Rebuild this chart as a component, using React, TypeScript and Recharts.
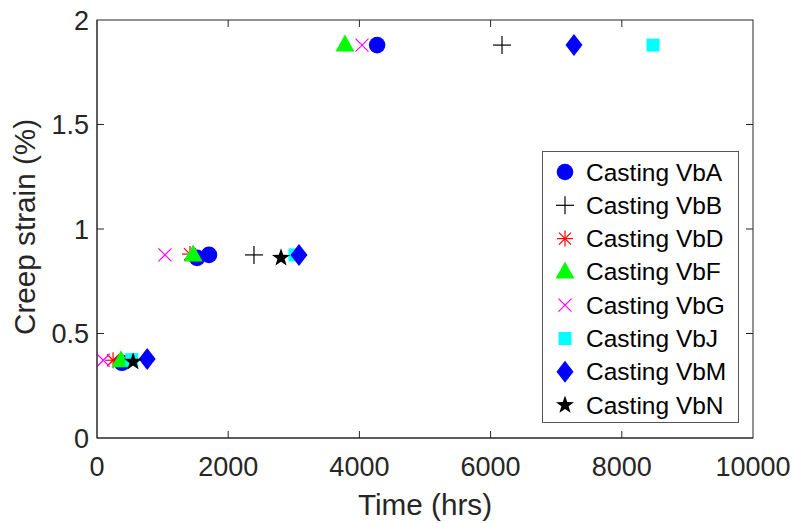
import React from 'react';
import { ScatterChart, Scatter, XAxis, YAxis, Legend, Label } from 'recharts';

type Pt = { x: number; y: number };

// Data (Time hrs, Creep strain %)
const castingVbA: Pt[] = [
  { x: 4270, y: 1.88 },
  { x: 1525, y: 0.862 },
  { x: 1707, y: 0.876 },
  { x: 380, y: 0.36 },
];
const castingVbB: Pt[] = [
  { x: 6174, y: 1.88 },
  { x: 2393, y: 0.876 },
];
const castingVbD: Pt[] = [
  { x: 1418, y: 0.88 },
  { x: 245, y: 0.372 },
];
const castingVbF: Pt[] = [
  { x: 3780, y: 1.88 },
  { x: 1465, y: 0.876 },
  { x: 365, y: 0.37 },
];
const castingVbG: Pt[] = [
  { x: 4040, y: 1.88 },
  { x: 1036, y: 0.876 },
  { x: 95, y: 0.372 },
];
const castingVbJ: Pt[] = [
  { x: 8476, y: 1.88 },
  { x: 3018, y: 0.876 },
  { x: 530, y: 0.375 },
];
const castingVbM: Pt[] = [
  { x: 7271, y: 1.88 },
  { x: 3079, y: 0.876 },
  { x: 765, y: 0.378 },
];
const castingVbN: Pt[] = [
  { x: 2805, y: 0.862 },
  { x: 550, y: 0.365 },
];

const xTicks = [0, 2000, 4000, 6000, 8000, 10000];
const yTicks = [0, 0.5, 1, 1.5, 2];
const xDomain: [number, number] = [0, 10000];
const yDomain: [number, number] = [0, 2];

type Kind = 'circle' | 'plus' | 'asterisk' | 'triangle' | 'xmark' | 'square' | 'diamond' | 'star';

const series: { name: string; data: Pt[]; kind: Kind; color: string }[] = [
  { name: 'Casting VbA', data: castingVbA, kind: 'circle', color: '#0000FF' },
  { name: 'Casting VbB', data: castingVbB, kind: 'plus', color: '#000000' },
  { name: 'Casting VbD', data: castingVbD, kind: 'asterisk', color: '#FF0000' },
  { name: 'Casting VbF', data: castingVbF, kind: 'triangle', color: '#00FF00' },
  { name: 'Casting VbG', data: castingVbG, kind: 'xmark', color: '#FF00FF' },
  { name: 'Casting VbJ', data: castingVbJ, kind: 'square', color: '#00FFFF' },
  { name: 'Casting VbM', data: castingVbM, kind: 'diamond', color: '#0000FF' },
  { name: 'Casting VbN', data: castingVbN, kind: 'star', color: '#000000' },
];

function starPoints(cx: number, cy: number, R: number, r: number) {
  const pts: string[] = [];
  for (let i = 0; i < 10; i++) {
    const rad = i % 2 === 0 ? R : r;
    const a = -Math.PI / 2 + (i * Math.PI) / 5;
    pts.push(`${cx + rad * Math.cos(a)},${cy + rad * Math.sin(a)}`);
  }
  return pts.join(' ');
}

function Marker({ kind, color, cx, cy }: { kind: Kind; color: string; cx: number; cy: number }) {
  if (cx == null || cy == null || isNaN(cx) || isNaN(cy)) return null;
  switch (kind) {
    case 'circle':
      return <circle cx={cx} cy={cy} r={8.3} fill={color} />;
    case 'plus':
      return (
        <g stroke={color} strokeWidth={1.2}>
          <line x1={cx - 9} y1={cy} x2={cx + 9} y2={cy} />
          <line x1={cx} y1={cy - 9} x2={cx} y2={cy + 9} />
        </g>
      );
    case 'asterisk':
      return (
        <g stroke={color} strokeWidth={1.2}>
          <line x1={cx - 8} y1={cy} x2={cx + 8} y2={cy} />
          <line x1={cx} y1={cy - 8} x2={cx} y2={cy + 8} />
          <line x1={cx - 6} y1={cy - 6} x2={cx + 6} y2={cy + 6} />
          <line x1={cx - 6} y1={cy + 6} x2={cx + 6} y2={cy - 6} />
        </g>
      );
    case 'triangle':
      return <polygon points={`${cx},${cy - 10.5} ${cx - 9.5},${cy + 6.5} ${cx + 9.5},${cy + 6.5}`} fill={color} />;
    case 'xmark':
      return (
        <g stroke={color} strokeWidth={1.2}>
          <line x1={cx - 6.5} y1={cy - 6.5} x2={cx + 6.5} y2={cy + 6.5} />
          <line x1={cx - 6.5} y1={cy + 6.5} x2={cx + 6.5} y2={cy - 6.5} />
        </g>
      );
    case 'square':
      return <rect x={cx - 6.5} y={cy - 6.5} width={13} height={13} fill={color} />;
    case 'diamond':
      return <polygon points={`${cx},${cy - 11} ${cx + 8.5},${cy} ${cx},${cy + 11} ${cx - 8.5},${cy}`} fill={color} />;
    case 'star':
      return <polygon points={starPoints(cx, cy, 9.5, 3.8)} fill={color} />;
  }
  return null;
}

const AXIS = '#262626';
const FONT = '"Liberation Sans", Arial, Helvetica, sans-serif';

// layout
const CHART_W = 793;
const CHART_H = 523;
const MARGIN = { top: 20, right: 40, left: 0, bottom: 0 };
const Y_AXIS_W = 97;
const X_AXIS_H = 85;
const PLOT_X = MARGIN.left + Y_AXIS_W;
const PLOT_Y = MARGIN.top;
const PLOT_W = CHART_W - MARGIN.left - MARGIN.right - Y_AXIS_W;
const PLOT_H = CHART_H - MARGIN.top - MARGIN.bottom - X_AXIS_H;
const TICK_PX = 7;

const innerX = xTicks.filter((t) => t > xDomain[0] && t < xDomain[1]);
const innerY = yTicks.filter((t) => t > yDomain[0] && t < yDomain[1]);
const px = (v: number) => PLOT_X + ((v - xDomain[0]) / (xDomain[1] - xDomain[0])) * PLOT_W;
const py = (v: number) => PLOT_Y + PLOT_H - ((v - yDomain[0]) / (yDomain[1] - yDomain[0])) * PLOT_H;

// MATLAB-style axes box with inward ticks on all four sides
function AxesBox() {
  return (
    <svg
      width={CHART_W}
      height={CHART_H}
      style={{ position: 'absolute', left: 0, top: 0, pointerEvents: 'none' }}
    >
      <rect x={PLOT_X} y={PLOT_Y} width={PLOT_W} height={PLOT_H} fill="none" stroke={AXIS} strokeWidth={1} />
      <g stroke={AXIS} strokeWidth={1}>
        {innerX.map((t) => (
          <g key={`x${t}`}>
            <line x1={px(t)} y1={PLOT_Y + PLOT_H} x2={px(t)} y2={PLOT_Y + PLOT_H - TICK_PX} />
            <line x1={px(t)} y1={PLOT_Y} x2={px(t)} y2={PLOT_Y + TICK_PX} />
          </g>
        ))}
        {innerY.map((t) => (
          <g key={`y${t}`}>
            <line x1={PLOT_X} y1={py(t)} x2={PLOT_X + TICK_PX} y2={py(t)} />
            <line x1={PLOT_X + PLOT_W} y1={py(t)} x2={PLOT_X + PLOT_W - TICK_PX} y2={py(t)} />
          </g>
        ))}
      </g>
    </svg>
  );
}

function LegendBox() {
  const rowH = 33.3;
  const w = 197;
  const h = 272;
  return (
    <svg width={w} height={h} style={{ display: 'block' }}>
      <rect x={0.5} y={0.5} width={w - 1} height={h - 1} fill="#fff" stroke="#555" strokeWidth={1} />
      {series.map((s, i) => {
        const cy = 21 + i * rowH;
        return (
          <g key={s.name}>
            <Marker kind={s.kind} color={s.color} cx={23} cy={cy} />
            <text x={44} y={cy + 8.5} fontSize={24.5} fontFamily={FONT} fill="#000">
              {s.name}
            </text>
          </g>
        );
      })}
    </svg>
  );
}

function YLabel(props: any) {
  const vb = props.viewBox || {};
  const cx = 35;
  const cy = (vb.y ?? 20) + (vb.height ?? 418) / 2 - 2;
  return (
    <text
      x={cx}
      y={cy}
      transform={`rotate(-90 ${cx} ${cy})`}
      textAnchor="middle"
      fontSize={29.7}
      fontFamily={FONT}
      fill={AXIS}
    >
      Creep strain (%)
    </text>
  );
}

function XLabel(props: any) {
  const vb = props.viewBox || {};
  const cx = (vb.x ?? 97) + (vb.width ?? 656) / 2;
  const y = 515;
  return (
    <text x={cx} y={y} textAnchor="middle" fontSize={29.7} fontFamily={FONT} fill={AXIS}>
      Time (hrs)
    </text>
  );
}

export default function App() {
  return (
    <div style={{ position: 'absolute', left: 0, top: 0, width: CHART_W, height: CHART_H, fontFamily: FONT, overflow: 'hidden' }}>
      <ScatterChart width={CHART_W} height={CHART_H} margin={MARGIN} style={{ fontFamily: FONT }}>
        <XAxis
          xAxisId="bottom"
          type="number"
          dataKey="x"
          domain={xDomain}
          ticks={xTicks}
          height={X_AXIS_H}
          stroke={AXIS}
          tickLine={false}
          tickSize={0}
          tickMargin={19}
          tick={{ fill: AXIS, fontSize: 27, fontFamily: FONT }}
          interval={0}
        >
          <Label content={<XLabel />} />
        </XAxis>
        <YAxis
          yAxisId="left"
          type="number"
          dataKey="y"
          domain={yDomain}
          ticks={yTicks}
          width={Y_AXIS_W}
          stroke={AXIS}
          tickLine={false}
          tickSize={0}
          tickMargin={8}
          tick={{ fill: AXIS, fontSize: 27, fontFamily: FONT }}
          interval={0}
        >
          <Label content={<YLabel />} />
        </YAxis>
        {series.map((s) => (
          <Scatter
            key={s.name}
            name={s.name}
            data={s.data}
            xAxisId="bottom"
            yAxisId="left"
            fill={s.color}
            isAnimationActive={false}
            shape={(p: any) => <Marker kind={s.kind} color={s.color} cx={p.cx} cy={p.cy} />}
          />
        ))}
        <Legend
          layout="vertical"
          align="center"
          verticalAlign="middle"
          wrapperStyle={{ position: 'absolute', left: 542, top: 151, width: 197, height: 272 }}
          content={() => <LegendBox />}
        />
      </ScatterChart>
      <AxesBox />
    </div>
  );
}
